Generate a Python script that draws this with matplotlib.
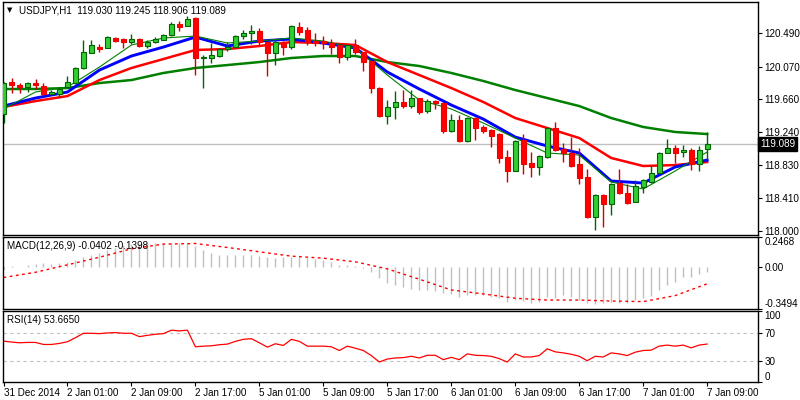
import numpy as np
import matplotlib
matplotlib.use('Agg')
from matplotlib import pyplot as plt
from matplotlib.transforms import blended_transform_factory

plt.rcParams['font.family'] = ['Liberation Sans', 'DejaVu Sans']
plt.rcParams['font.size'] = 7

##################
# data
##################
time_labels = ['31 Dec 2014', '2 Jan 01:00', '2 Jan 09:00', '2 Jan 17:00', '5 Jan 01:00',
               '5 Jan 09:00', '5 Jan 17:00', '6 Jan 01:00', '6 Jan 09:00', '6 Jan 17:00',
               '7 Jan 01:00', '7 Jan 09:00']

opens = [119.472, 119.876, 119.838, 119.813, 119.863, 119.826, 119.725, 119.725, 119.813, 119.863,
         120.053, 120.242, 120.317, 120.305, 120.431, 120.418, 120.380, 120.418, 120.330, 120.380,
         120.406, 120.469, 120.607, 120.582, 120.683, 120.179, 120.179, 120.204, 120.292, 120.317,
         120.456, 120.494, 120.519, 120.380, 120.242, 120.380, 120.317, 120.570, 120.532, 120.393,
         120.393, 120.368, 120.343, 120.191, 120.343, 120.254, 120.141, 119.800, 119.447, 119.561,
         119.624, 119.573, 119.674, 119.510, 119.636, 119.611, 119.258, 119.397, 119.132, 119.422,
         119.309, 119.271, 119.220, 118.930, 118.754, 119.145, 118.855, 118.804, 118.930, 119.296,
         119.031, 118.981, 118.842, 118.678, 118.174, 118.451, 118.337, 118.602, 118.476, 118.363,
         118.552, 118.615, 118.728, 118.981, 119.044, 118.993, 119.019, 118.842, 119.030]
highs = [119.870, 119.926, 119.863, 119.876, 119.914, 119.863, 119.775, 119.813, 119.952, 120.060,
         120.406, 120.406, 120.355, 120.456, 120.443, 120.431, 120.481, 120.431, 120.406, 120.443,
         120.481, 120.633, 120.645, 120.708, 120.690, 120.216, 120.368, 120.305, 120.380, 120.469,
         120.530, 120.595, 120.557, 120.393, 120.418, 120.393, 120.590, 120.633, 120.570, 120.494,
         120.456, 120.418, 120.350, 120.350, 120.418, 120.260, 120.150, 119.813, 119.649, 119.762,
         119.775, 119.775, 119.680, 119.662, 119.649, 119.620, 119.472, 119.460, 119.430, 119.430,
         119.334, 119.280, 119.230, 119.019, 119.140, 119.220, 118.993, 118.955, 119.310, 119.372,
         119.107, 119.182, 119.044, 118.779, 118.460, 118.460, 118.600, 118.779, 118.590, 118.640,
         118.653, 118.829, 118.990, 119.157, 119.082, 119.082, 119.044, 119.069, 119.245]
lows = [119.359, 119.737, 119.737, 119.750, 119.788, 119.699, 119.712, 119.687, 119.800, 119.850,
        120.040, 120.240, 120.254, 120.300, 120.380, 120.305, 120.355, 120.317, 120.305, 120.368,
        120.400, 120.456, 120.519, 120.580, 119.964, 119.800, 120.116, 120.190, 120.267, 120.305,
        120.418, 120.350, 120.343, 119.952, 120.090, 120.216, 120.292, 120.469, 120.343, 120.330,
        120.292, 120.229, 120.116, 120.153, 120.229, 120.015, 119.737, 119.435, 119.346, 119.409,
        119.548, 119.548, 119.472, 119.485, 119.536, 119.233, 119.246, 119.119, 119.120, 119.145,
        119.233, 119.056, 118.855, 118.615, 118.750, 118.716, 118.678, 118.703, 118.920, 119.010,
        118.867, 118.810, 118.590, 118.161, 118.010, 118.048, 118.199, 118.470, 118.337, 118.360,
        118.476, 118.602, 118.720, 118.975, 118.855, 118.930, 118.766, 118.754, 118.906]
closes = [119.863, 119.838, 119.813, 119.863, 119.838, 119.725, 119.750, 119.788, 119.876, 120.053,
          120.254, 120.343, 120.292, 120.443, 120.393, 120.380, 120.418, 120.330, 120.380, 120.418,
          120.469, 120.607, 120.570, 120.670, 120.179, 120.191, 120.216, 120.292, 120.317, 120.456,
          120.494, 120.519, 120.380, 120.242, 120.380, 120.317, 120.582, 120.506, 120.380, 120.368,
          120.368, 120.317, 120.191, 120.343, 120.254, 120.128, 119.800, 119.447, 119.561, 119.624,
          119.573, 119.674, 119.498, 119.636, 119.611, 119.258, 119.397, 119.132, 119.422, 119.296,
          119.258, 119.195, 118.918, 118.754, 119.132, 118.842, 118.804, 118.943, 119.296, 119.019,
          118.981, 118.817, 118.665, 118.174, 118.451, 118.337, 118.590, 118.476, 118.350, 118.565,
          118.640, 118.728, 118.981, 119.044, 118.981, 119.019, 118.842, 119.019, 119.089]

# moving averages, read every 4th bar
ma_bars = [0, 4, 8, 12, 16, 20, 24, 28, 32, 36, 40, 44, 48, 52, 56, 60, 64, 68, 72, 76, 80, 84, 88]
ma_blue = [119.573, 119.674, 119.750, 120.027, 120.204, 120.317, 120.443, 120.330, 120.393, 120.418,
           120.368, 120.305, 120.002, 119.788, 119.586, 119.409, 119.182, 119.069, 118.981, 118.628,
           118.602, 118.804, 118.892]
ma_red = [119.561, 119.636, 119.699, 119.901, 120.053, 120.166, 120.280, 120.292, 120.330, 120.380,
          120.368, 120.343, 120.128, 119.964, 119.800, 119.624, 119.422, 119.296, 119.170, 118.918,
          118.817, 118.829, 118.867]
ma_green = [119.788, 119.788, 119.800, 119.863, 119.901, 119.990, 120.053, 120.090, 120.128, 120.179,
            120.204, 120.204, 120.128, 120.078, 119.990, 119.889, 119.775, 119.674, 119.573, 119.422,
            119.309, 119.246, 119.220]
ma_thin = [119.536, 119.750, 119.813, 120.065, 120.343, 120.431, 120.456, 120.368, 120.393, 120.431,
           120.393, 120.305, 119.964, 119.649, 119.536, 119.359, 119.170, 118.981, 118.955, 118.615,
           118.527, 118.754, 118.993]

macd_hist = [-0.02, 0.005, 0.0, 0.02, 0.025, 0.03, 0.025, 0.035, 0.045, 0.06,
             0.08, 0.10, 0.12, 0.145, 0.16, 0.18, 0.19, 0.195, 0.198, 0.198,
             0.20, 0.20, 0.20, 0.198, 0.175, 0.145, 0.12, 0.10, 0.10, 0.10,
             0.10, 0.10, 0.095, 0.08, 0.075, 0.08, 0.08, 0.08, 0.075, 0.065,
             0.055, 0.04, 0.02, 0.02, 0.01, -0.005, -0.04, -0.095, -0.135, -0.15,
             -0.169, -0.183, -0.191, -0.191, -0.199, -0.219, -0.224, -0.247, -0.233, -0.233,
             -0.233, -0.247, -0.260, -0.288, -0.275, -0.283, -0.297, -0.288, -0.247, -0.260,
             -0.233, -0.247, -0.275, -0.297, -0.308, -0.297, -0.294, -0.297, -0.297, -0.275,
             -0.260, -0.241, -0.191, -0.149, -0.121, -0.085, -0.080, -0.060, -0.0402]
macd_signal = [-0.088, -0.044, 0.018, 0.081, 0.151, 0.190, 0.195, 0.162, 0.126, 0.090,
               0.073, 0.043, -0.016, -0.102, -0.191, -0.224, -0.260, -0.275, -0.275, -0.283,
               -0.288, -0.238, -0.1398]

rsi = [57.9, 56.5, 55.5, 56.0, 56.0, 53.1, 53.1, 54.6, 57.0, 62.8,
       69.0, 69.0, 68.5, 69.5, 70.0, 69.0, 69.0, 64.2, 66.1, 67.6,
       68.5, 73.4, 72.4, 73.4, 49.8, 50.7, 51.2, 52.7, 53.6, 57.5,
       60.4, 61.3, 55.5, 49.3, 54.1, 51.7, 60.4, 57.5, 50.7, 50.7,
       50.7, 49.8, 44.5, 50.7, 47.8, 44.5, 37.3, 28.1, 32.4, 33.9,
       34.4, 36.3, 33.9, 37.7, 37.7, 31.5, 34.8, 31.5, 39.7, 37.7,
       37.3, 36.3, 32.9, 28.1, 39.7, 35.3, 35.3, 37.3, 46.9, 42.6,
       41.1, 39.2, 36.3, 30.0, 36.3, 35.3, 41.1, 39.7, 37.3, 42.1,
       44.5, 45.0, 50.7, 52.2, 50.7, 52.2, 48.3, 52.2, 53.665]

price_ticks = [120.490, 120.070, 119.660, 119.240, 118.830, 118.410, 118.000]
last_price = 119.089

##################
# figure
##################
opens = np.array(opens)
highs = np.array(highs)
lows = np.array(lows)
closes = np.array(closes)
x = np.arange(len(closes))
up = closes >= opens
fs = 7.1

fig = plt.figure(figsize=(8, 4), dpi=100)
ax_p = fig.add_axes([0.0034, 0.4125, 0.9435, 0.5817])
ax_m = fig.add_axes([0.0034, 0.2275, 0.9435, 0.1793])
ax_r = fig.add_axes([0.0034, 0.0455, 0.9435, 0.1758])

for ax in (ax_p, ax_m, ax_r):
    ax.set_xlim(-0.1, 94.3)
    for s in ax.spines.values():
        s.set_linewidth(1.0)
        s.set_color('black')
    ax.yaxis.tick_right()
    ax.tick_params(axis='y', direction='out', length=3, width=0.8, pad=2, labelsize=fs)
    ax.tick_params(axis='x', bottom=False, labelbottom=False)

##################
# price panel
##################
ax_p.set_ylim(117.947, 120.881)
ax_p.axhline(last_price, color='#c0c0c0', lw=1, zorder=0)

ax_p.plot(ma_bars, ma_green, color='#008000', lw=1.8, zorder=1)
ax_p.plot(ma_bars, ma_red, color='#ff0000', lw=1.8, zorder=1)
ax_p.plot(ma_bars, ma_blue, color='#0000ff', lw=2.1, zorder=1)
ax_p.plot(ma_bars, ma_thin, color='#008000', lw=0.8, zorder=1)

ax_p.vlines(x[up], lows[up], highs[up], color='#006400', lw=1, zorder=2)
ax_p.vlines(x[~up], lows[~up], highs[~up], color='#cc0000', lw=1, zorder=2)
ax_p.bar(x[up], np.maximum(closes[up] - opens[up], 0.006), bottom=opens[up], width=0.6,
         color='#32cd32', edgecolor='#006400', lw=0.8, zorder=3)
ax_p.bar(x[~up], np.maximum(opens[~up] - closes[~up], 0.006), bottom=closes[~up], width=0.6,
         color='#ff0000', edgecolor='#ee0000', lw=0.8, zorder=3)

ax_p.set_yticks(price_ticks)
ax_p.set_yticklabels(['%.3f' % t for t in price_ticks])

tr = blended_transform_factory(ax_p.transAxes, ax_p.transData)
ax_p.text(1.003, last_price, '%.3f' % last_price, transform=tr, color='white', va='center',
          ha='left', fontsize=fs, bbox=dict(boxstyle='square,pad=0.2', fc='black', ec='black'))
ax_p.text(0.009, 0.965, '\u25bc', transform=ax_p.transAxes, fontsize=5, va='center', ha='center',
          family='DejaVu Sans')
ax_p.text(0.021, 0.965, 'USDJPY,H1  119.030 119.245 118.906 119.089', transform=ax_p.transAxes,
          fontsize=fs, va='center', ha='left', color='black')

##################
# macd panel
##################
ax_m.set_ylim(-0.3494, 0.2468)
ax_m.vlines(x, 0, macd_hist, color='#c0c0c0', lw=1)
ax_m.plot(ma_bars, macd_signal, color='#ff0000', lw=1, ls=(0, (2, 2.5)))
ax_m.set_yticks([0.2468, 0.0, -0.3494])
ax_m.set_yticklabels(['0.2468', '0.00', '-0.3494'])
labs = ax_m.get_yticklabels()
labs[0].set_va('top')
labs[2].set_va('bottom')
ax_m.text(0.006, 0.88, 'MACD(12,26,9) -0.0402 -0.1398', transform=ax_m.transAxes,
          fontsize=fs, va='center', ha='left')

##################
# rsi panel
##################
ax_r.set_ylim(0, 100)
ax_r.axhline(70, color='#c0c0c0', lw=0.8, ls=(0, (3, 3)))
ax_r.axhline(30, color='#c0c0c0', lw=0.8, ls=(0, (3, 3)))
ax_r.plot(x, rsi, color='#ff0000', lw=0.9)
ax_r.set_yticks([100, 70, 30, 0])
ax_r.set_yticklabels(['100', '70', '30', '0'])
labs = ax_r.get_yticklabels()
labs[0].set_va('top')
labs[3].set_va('bottom')
ax_r.text(0.006, 0.88, 'RSI(14) 53.6650', transform=ax_r.transAxes,
          fontsize=fs, va='center', ha='left')

ax_r.set_xticks(range(0, 89, 8))
ax_r.set_xticklabels(time_labels, ha='left')
ax_r.tick_params(axis='x', bottom=True, labelbottom=True, direction='out', length=3,
                 width=0.8, pad=1.5, labelsize=fs)

fig.savefig('out.png', dpi=100)
